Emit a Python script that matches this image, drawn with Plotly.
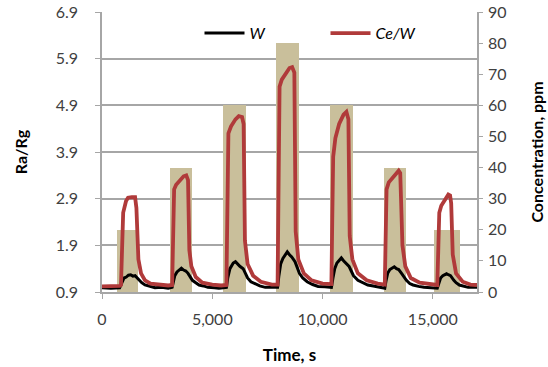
import plotly.graph_objects as go

# Concentration pulses (ppm)
conc_time = [1160, 3590, 6000, 8420, 10840, 13270, 15640]
conc_ppm = [20, 40, 60, 80, 60, 40, 20]
conc_width = [960, 1000, 1060, 1020, 1050, 1000, 1150]

# Ce/W response (Ra/Rg)
cew_time = [0, 400, 800, 860, 910, 960, 1090, 1180, 1350, 1500, 1560, 1600, 1650, 1770, 1950, 2200, 2600, 3000,
            3180, 3230, 3270, 3360, 3550, 3700, 3820, 3900, 3960, 4050, 4250, 4550, 5000, 5400,
            5640, 5690, 5730, 5850, 6050, 6200, 6350, 6420, 6480, 6600, 6850, 7200, 7700,
            7960, 8010, 8050, 8150, 8350, 8500, 8620, 8720, 8780, 8900, 9150, 9500, 10000,
            10400, 10440, 10480, 10580, 10750, 10950, 11080, 11170, 11230, 11350, 11600, 12000, 12500,
            12820, 12860, 12900, 13000, 13250, 13450, 13520, 13620, 13750, 14000, 14400, 14900,
            15200, 15250, 15290, 15380, 15550, 15700, 15780, 15830, 15900, 16050, 16350, 16700, 17000]
cew_val = [1.02, 1.02, 1.03, 1.05, 2.3, 2.6, 2.85, 2.92, 2.93, 2.93, 2.7, 1.9, 1.6, 1.3, 1.15, 1.08, 1.05, 1.04,
           1.05, 2.2, 3.1, 3.2, 3.3, 3.38, 3.4, 3.3, 1.8, 1.45, 1.22, 1.1, 1.06, 1.04,
           1.05, 3.2, 4.3, 4.45, 4.6, 4.67, 4.65, 4.5, 2.0, 1.5, 1.25, 1.12, 1.06,
           1.06, 3.5, 5.3, 5.45, 5.6, 5.7, 5.72, 5.6, 2.2, 1.6, 1.3, 1.15, 1.08,
           1.07, 2.5, 3.8, 4.2, 4.5, 4.7, 4.76, 4.6, 2.1, 1.6, 1.3, 1.15, 1.08,
           1.06, 2.2, 3.1, 3.25, 3.4, 3.5, 3.45, 1.9, 1.45, 1.2, 1.1, 1.06,
           1.05, 1.9, 2.6, 2.75, 2.9, 2.99, 2.97, 2.8, 1.7, 1.3, 1.12, 1.06, 1.05]

# W response (Ra/Rg)
w_time = [0, 400, 800, 900, 1000, 1100, 1200, 1300, 1400, 1500, 1600, 1700, 1800, 1950, 2150, 2400, 2700, 3000,
          3180, 3250, 3300, 3400, 3500, 3600, 3700, 3800, 3900, 4000, 4100, 4250, 4400, 4600, 4800, 5100, 5300,
          5640, 5700, 5800, 5900, 5950, 6050, 6150, 6250, 6400, 6500, 6600, 6750, 6900, 7150, 7400, 7700,
          7960, 8020, 8100, 8200, 8300, 8400, 8500, 8600, 8750, 8850, 8950, 9100, 9300, 9550, 9800, 10100,
          10400, 10470, 10550, 10650, 10750, 10850, 10950, 11100, 11200, 11300, 11400, 11600, 11800, 12050, 12300, 12600,
          12820, 12880, 12950, 13050, 13150, 13250, 13350, 13450, 13580, 13700, 13800, 13950, 14100, 14350, 14600,
          15200, 15270, 15350, 15450, 15550, 15620, 15700, 15800, 15950, 16050, 16200, 16400, 16600, 16800, 17000]
w_val = [0.99, 0.98, 0.99, 1.1, 1.2, 1.22, 1.26, 1.27, 1.24, 1.25, 1.2, 1.15, 1.1, 1.05, 1.02, 0.99, 1.0, 0.98,
         1.0, 1.15, 1.25, 1.33, 1.38, 1.41, 1.37, 1.35, 1.3, 1.22, 1.15, 1.1, 1.05, 1.03, 1.0, 0.99, 0.98,
         1.0, 1.2, 1.4, 1.47, 1.52, 1.55, 1.5, 1.45, 1.4, 1.3, 1.2, 1.12, 1.08, 1.03, 1.0, 1.0,
         1.0, 1.25, 1.5, 1.62, 1.7, 1.76, 1.7, 1.65, 1.55, 1.42, 1.3, 1.2, 1.12, 1.06, 1.02, 1.01,
         1.0, 1.2, 1.4, 1.52, 1.58, 1.63, 1.57, 1.5, 1.45, 1.35, 1.25, 1.15, 1.1, 1.05, 1.03, 1.0,
         0.98, 1.15, 1.3, 1.38, 1.42, 1.44, 1.4, 1.38, 1.3, 1.22, 1.15, 1.08, 1.05, 1.02, 1.0,
         0.98, 1.1, 1.2, 1.25, 1.28, 1.29, 1.27, 1.25, 1.15, 1.1, 1.05, 1.02, 1.0, 1.0, 1.0]

left_ticks = [0.9, 1.9, 2.9, 3.9, 4.9, 5.9, 6.9]
right_ticks = [0, 10, 20, 30, 40, 50, 60, 70, 80, 90]
x_ticks = [0, 5000, 10000, 15000]

FONT = "Lato"
GRID = "#a6a6a6"

fig = go.Figure()
fig.add_trace(go.Bar(x=conc_time, y=conc_ppm, width=conc_width, marker=dict(color="#c9bf9b", line=dict(width=0)),
                     yaxis="y", showlegend=False))
fig.add_trace(go.Scatter(x=w_time, y=w_val, mode="lines", name="<i>W</i>", yaxis="y2",
                         line=dict(color="#000000", width=3)))
fig.add_trace(go.Scatter(x=cew_time, y=cew_val, mode="lines", name="<i>Ce/W</i>", yaxis="y2",
                         line=dict(color="#b03a3a", width=3.8)))

fig.update_layout(
    width=548, height=367,
    margin=dict(l=102, r=71, t=12, b=75, autoexpand=False),
    paper_bgcolor="white", plot_bgcolor="white",
    font=dict(family=FONT, size=16, color="#404040"),
    bargap=0,
    xaxis=dict(range=[0, 17000], tickvals=x_ticks, tickformat=",d", showgrid=False, automargin=False,
               showline=True, linecolor=GRID, linewidth=1.5, ticks="outside", ticklen=5, tickcolor=GRID,
               ticklabelstandoff=7,
               title=dict(text="<b>Time, s</b>", font=dict(size=17, color="#000000"), standoff=22),
               zeroline=False),
    yaxis=dict(range=[0, 90], tickvals=right_ticks, side="right", showgrid=False, zeroline=False, automargin=False,
               showline=True, linecolor=GRID, linewidth=1.5, ticks="outside", ticklen=4, tickcolor=GRID,
               ticklabelstandoff=2,
               title=dict(text="<b>Concentration, ppm</b>", font=dict(size=16, color="#000000"), standoff=26)),
    yaxis2=dict(range=[0.9, 6.9], tickvals=left_ticks, tickformat=".1f", side="left", overlaying="y",
                showgrid=True, gridcolor=GRID, gridwidth=1.5, zeroline=False, automargin=False,
                showline=True, linecolor=GRID, linewidth=1.5, ticks="outside", ticklen=5, tickcolor=GRID,
                ticklabelstandoff=14,
                title=dict(text="<b>Ra/Rg</b>", font=dict(size=16, color="#000000"), standoff=24)),
    legend=dict(orientation="h", x=0.26, y=0.985, xanchor="left", yanchor="top",
                entrywidth=71, entrywidthmode="pixels", bgcolor="rgba(0,0,0,0)",
                font=dict(size=16, color="#000000"), itemwidth=40),
)

fig.write_html("out.html")
